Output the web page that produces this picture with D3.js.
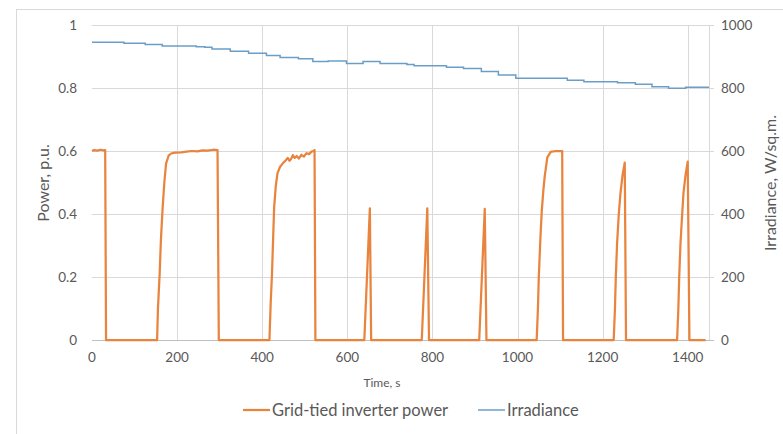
<!DOCTYPE html>
<html lang="en">
<head>
<meta charset="utf-8">
<style>
    body { margin: 0; background: white; }
    svg { background: white; font-family: Lato, "Open Sans", sans-serif; }
    .grid line { stroke: #d9d9d9; stroke-width: 1px; }
    .tick-label { fill: #595959; font-size: 13.5px; }
    .axis-title { fill: #595959; font-size: 16px; }
    .legend-text { fill: #595959; font-size: 16.5px; }
</style>
<script src="https://d3js.org/d3.v7.min.js"></script>
</head>
<body>
<script>
// time axis, seconds
var xTicks = [0, 200, 400, 600, 800, 1000, 1200, 1400];
var powerTicks = [0, 0.2, 0.4, 0.6, 0.8, 1];
var irrTicks = [0, 200, 400, 600, 800, 1000];

// grid-tied inverter power, p.u.
var powerTime = [0, 5, 12, 20, 27, 31, 33, 153, 155, 159, 162, 166, 170, 174, 180, 186, 195, 210, 222, 235, 248, 260, 272, 285, 295, 298,
    417, 420, 423, 428, 432, 436, 442, 448, 455, 460, 464, 468, 472, 476, 481, 486, 492, 498, 504, 510, 516, 520, 523, 525,
    640, 653, 656, 775, 788, 792, 910, 923, 927,
    1045, 1048, 1050, 1054, 1057, 1061, 1064, 1070, 1078, 1090, 1105, 1107,
    1226, 1229, 1231, 1234, 1238, 1242, 1247, 1252, 1255,
    1375, 1378, 1380, 1383, 1387, 1390, 1395, 1400, 1404, 1442];
var powerValue = [0.600, 0.603, 0.601, 0.604, 0.602, 0.603, 0, 0, 0.10, 0.21, 0.32, 0.42, 0.50, 0.56, 0.585, 0.592, 0.595, 0.596, 0.598, 0.600, 0.599, 0.602, 0.601, 0.604, 0.603, 0,
    0, 0.12, 0.21, 0.42, 0.49, 0.53, 0.55, 0.56, 0.57, 0.578, 0.569, 0.575, 0.587, 0.578, 0.584, 0.576, 0.588, 0.582, 0.593, 0.590, 0.598, 0.600, 0.603, 0,
    0, 0.418, 0, 0, 0.418, 0, 0, 0.416, 0,
    0, 0.10, 0.20, 0.33, 0.41, 0.48, 0.52, 0.58, 0.597, 0.600, 0.600, 0,
    0, 0.10, 0.20, 0.307, 0.40, 0.466, 0.525, 0.563, 0,
    0, 0.10, 0.20, 0.307, 0.40, 0.466, 0.525, 0.566, 0, 0];

// irradiance, W/sq.m. (stepped)
var irrTime = [0, 75, 125, 165, 245, 265, 282, 325, 368, 410, 442, 485, 519, 555, 598, 637, 677, 740, 757, 833, 873, 915, 955, 996, 1117, 1156, 1235, 1277, 1316, 1355, 1395, 1450];
var irrValue = [945, 942, 938, 933, 931, 929, 924, 917, 910, 903, 897, 893, 884, 886, 878, 884, 878, 875, 871, 866, 862, 852, 841, 831, 825, 820, 817, 812, 804, 799, 802, 802];

var width = 783,
    height = 434;
var plotL = 92, plotR = 709, plotT = 25, plotB = 340;

var svg = d3.select("body").append("svg")
    .attr("width", width)
    .attr("height", height);

// chart area border
svg.append("rect")
    .attr("x", 16.5).attr("y", 9.5)
    .attr("width", 800).attr("height", 450)
    .attr("fill", "none").attr("stroke", "#d9d9d9");

var x = d3.scaleLinear().domain([0, 1450]).range([plotL, plotR]);
var yP = d3.scaleLinear().domain([0, 1]).range([plotB, plotT]);
var yI = d3.scaleLinear().domain([0, 1000]).range([plotB, plotT]);

// gridlines
var grid = svg.append("g").attr("class", "grid");
grid.selectAll(".h").data(powerTicks.slice(1)).enter().append("line")
    .attr("x1", plotL).attr("x2", plotR + 5)
    .attr("y1", function(d) { return Math.round(yP(d)) + 0.5; })
    .attr("y2", function(d) { return Math.round(yP(d)) + 0.5; });
grid.selectAll(".v").data(xTicks.slice(1)).enter().append("line")
    .attr("x1", function(d) { return Math.round(x(d)) + 0.5; })
    .attr("x2", function(d) { return Math.round(x(d)) + 0.5; })
    .attr("y1", plotT).attr("y2", plotB);

// x axis line and right axis line
svg.append("line")
    .attr("x1", plotL).attr("x2", plotR + 5)
    .attr("y1", plotB + 0.5).attr("y2", plotB + 0.5)
    .attr("stroke", "#bfbfbf");
svg.append("line")
    .attr("x1", plotR + 0.5).attr("x2", plotR + 0.5)
    .attr("y1", plotT).attr("y2", plotB)
    .attr("stroke", "#d9d9d9");

// tick labels
svg.selectAll(".yl").data(powerTicks).enter().append("text")
    .attr("class", "tick-label")
    .attr("x", 77).attr("y", function(d) { return yP(d) + 5; })
    .attr("text-anchor", "end")
    .text(function(d) { return d; });
svg.selectAll(".yr").data(irrTicks).enter().append("text")
    .attr("class", "tick-label")
    .attr("x", 721).attr("y", function(d) { return yI(d) + 5; })
    .text(function(d) { return d; });
svg.selectAll(".xl").data(xTicks).enter().append("text")
    .attr("class", "tick-label")
    .attr("x", function(d) { return x(d); }).attr("y", 362)
    .attr("text-anchor", "middle")
    .text(function(d) { return d; });

// axis titles
svg.append("text").attr("class", "axis-title")
    .attr("transform", "translate(49,183) rotate(-90)")
    .attr("text-anchor", "middle")
    .text("Power, p.u.");
svg.append("text").attr("class", "axis-title")
    .attr("transform", "translate(776,183) rotate(-90)")
    .attr("text-anchor", "middle")
    .text("Irradiance, W/sq.m.");
svg.append("text")
    .attr("x", 382).attr("y", 387)
    .attr("text-anchor", "middle")
    .attr("fill", "#595959").attr("font-size", "12px")
    .text("Time, s");

// series
var irrLine = d3.line()
    .x(function(d, i) { return x(irrTime[i]); })
    .y(function(d) { return yI(d); })
    .curve(d3.curveStepAfter);
svg.append("path")
    .datum(irrValue)
    .attr("d", irrLine)
    .attr("fill", "none")
    .attr("stroke", "#6a9ec8")
    .attr("stroke-width", 1.5);

var powerLine = d3.line()
    .x(function(d, i) { return x(powerTime[i]); })
    .y(function(d) { return yP(d); });
svg.append("path")
    .datum(powerValue)
    .attr("d", powerLine)
    .attr("fill", "none")
    .attr("stroke", "#e8843e")
    .attr("stroke-width", 2.25)
    .attr("stroke-linejoin", "round");

// legend
var legend = [
    { name: "Grid-tied inverter power", color: "#e8843e", w: 2.25, x: 243 },
    { name: "Irradiance", color: "#6a9ec8", w: 1.5, x: 478 }
];
var lg = svg.selectAll(".lg").data(legend).enter().append("g")
    .attr("transform", function(d) { return "translate(" + d.x + ",410)"; });
lg.append("line")
    .attr("x1", 0).attr("x2", 27).attr("y1", 0).attr("y2", 0)
    .attr("stroke", function(d) { return d.color; })
    .attr("stroke-width", function(d) { return d.w; });
lg.append("text")
    .attr("class", "legend-text")
    .attr("x", 29).attr("y", 6)
    .text(function(d) { return d.name; });
</script>
</body>
</html>
